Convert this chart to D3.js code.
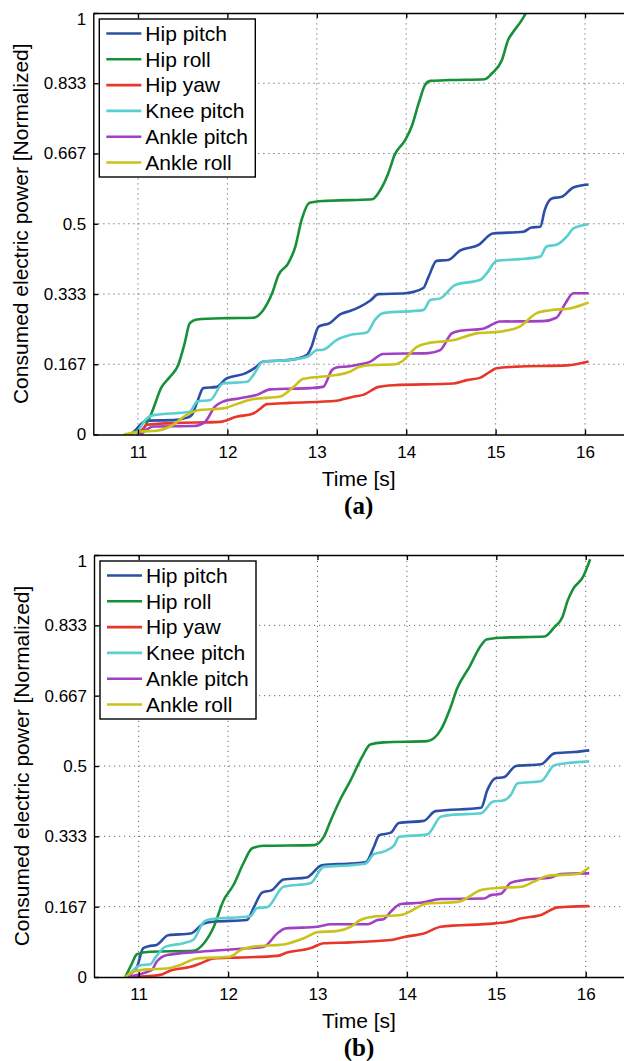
<!DOCTYPE html>
<html lang="en">
<head>
  <meta charset="UTF-8">
  <title>Consumed electric power per joint</title>
  <script src="https://d3js.org/d3.v7.min.js"></script>
  <style>
    body { margin: 0; background: #fff; }
    svg { display: block; background: #fff; }
    text { font-family: "Liberation Sans", Arial, sans-serif; fill: #000; }
    .grid line { stroke: #666; stroke-width: 1; stroke-dasharray: 1.2 3.8; }
    .axis path, .axis line { stroke: #000; stroke-width: 1.4; }
    .axis text { font-size: 17px; }
    .series { fill: none; stroke-width: 2.6; stroke-linejoin: round; }
    .label { font-size: 21px; }
    .panel-tag { font-family: "Liberation Serif", "Times New Roman", serif; font-weight: bold; font-size: 25px; }
    .legend text { font-size: 21px; }
  </style>
</head>
<body>
<svg width="624" height="1061"></svg>
<script>
const names = ["Hip pitch", "Hip roll", "Hip yaw", "Knee pitch", "Ankle pitch", "Ankle roll"];
const colors = ["#2c4ea6", "#179139", "#e8372a", "#5bcfcf", "#a23fc2", "#c9c21b"];
const xTicks = [11, 12, 13, 14, 15, 16];
const yTicks = [0, 1/6, 2/6, 3/6, 4/6, 5/6, 1];
const yTickLabels = ["0", "0.167", "0.333", "0.5", "0.667", "0.833", "1"];

// panel (a) — [time s, normalized power]
const hipPitchA = [[10.92,0],[10.98,0.012],[11.05,0.028],[11.10,0.033],[11.39,0.034],[11.55,0.040],[11.60,0.046],[11.67,0.082],[11.73,0.110],[11.88,0.113],[11.99,0.133],[12.20,0.145],[12.32,0.160],[12.40,0.173],[12.70,0.177],[12.89,0.189],[12.94,0.208],[13.02,0.256],[13.15,0.265],[13.26,0.285],[13.37,0.293],[13.48,0.303],[13.60,0.318],[13.69,0.333],[13.99,0.335],[14.19,0.347],[14.25,0.374],[14.34,0.412],[14.47,0.414],[14.60,0.436],[14.81,0.450],[14.97,0.477],[15.31,0.481],[15.40,0.491],[15.50,0.493],[15.55,0.533],[15.63,0.560],[15.74,0.564],[15.87,0.586],[16.04,0.593]];
const hipRollA = [[11.03,0],[11.15,0.05],[11.265,0.113],[11.35,0.135],[11.45,0.165],[11.52,0.215],[11.58,0.264],[11.66,0.273],[11.99,0.276],[12.29,0.277],[12.40,0.295],[12.50,0.335],[12.57,0.378],[12.68,0.406],[12.76,0.446],[12.83,0.509],[12.92,0.55],[13.07,0.554],[13.37,0.556],[13.62,0.558],[13.71,0.580],[13.80,0.620],[13.87,0.663],[13.99,0.699],[14.06,0.730],[14.14,0.786],[14.21,0.829],[14.27,0.839],[14.49,0.841],[14.88,0.843],[14.96,0.857],[15.07,0.888],[15.14,0.936],[15.20,0.956],[15.27,0.976],[15.34,1.0],[15.42,1.04]];
const hipYawA = [[10.98,0],[11.05,0.012],[11.10,0.023],[11.39,0.027],[11.92,0.030],[12.10,0.042],[12.29,0.050],[12.36,0.060],[12.44,0.072],[12.70,0.075],[13.22,0.080],[13.30,0.084],[13.42,0.090],[13.52,0.094],[13.69,0.113],[13.86,0.117],[14.53,0.121],[14.68,0.129],[14.83,0.135],[14.93,0.148],[15.01,0.157],[15.23,0.161],[15.80,0.164],[16.04,0.173]];
const kneePitchA = [[10.98,0],[11.03,0.018],[11.08,0.034],[11.17,0.046],[11.58,0.054],[11.66,0.078],[11.81,0.082],[11.95,0.121],[12.22,0.125],[12.29,0.141],[12.40,0.173],[12.70,0.177],[12.90,0.185],[13.00,0.200],[13.07,0.201],[13.22,0.224],[13.37,0.236],[13.56,0.242],[13.65,0.272],[13.74,0.288],[14.19,0.295],[14.27,0.319],[14.38,0.323],[14.55,0.355],[14.83,0.367],[14.90,0.382],[15.01,0.412],[15.27,0.416],[15.50,0.422],[15.57,0.446],[15.68,0.450],[15.81,0.473],[15.87,0.489],[16.04,0.499]];
const anklePitchA = [[11.03,0],[11.10,0.012],[11.17,0.019],[11.62,0.020],[11.75,0.030],[11.86,0.066],[11.95,0.078],[12.14,0.086],[12.33,0.094],[12.48,0.107],[12.92,0.110],[13.07,0.113],[13.17,0.153],[13.22,0.159],[13.37,0.162],[13.47,0.166],[13.60,0.173],[13.74,0.191],[14.25,0.193],[14.38,0.200],[14.51,0.240],[14.60,0.246],[14.86,0.251],[15.05,0.268],[15.53,0.269],[15.68,0.277],[15.78,0.311],[15.87,0.335],[16.04,0.335]];
const ankleRollA = [[10.84,0],[11.02,0.007],[11.21,0.009],[11.36,0.019],[11.54,0.046],[11.69,0.058],[11.95,0.062],[12.14,0.075],[12.29,0.084],[12.59,0.090],[12.74,0.113],[12.85,0.132],[13.04,0.137],[13.22,0.141],[13.37,0.149],[13.48,0.161],[13.63,0.165],[13.86,0.166],[13.95,0.173],[14.12,0.208],[14.23,0.216],[14.53,0.224],[14.79,0.240],[15.05,0.244],[15.27,0.256],[15.46,0.288],[15.61,0.295],[15.83,0.299],[16.04,0.313]];

// panel (b)
const hipPitchB = [[10.85,0],[10.98,0.024],[11.05,0.068],[11.11,0.073],[11.20,0.076],[11.33,0.099],[11.58,0.103],[11.73,0.127],[11.84,0.131],[12.21,0.135],[12.29,0.166],[12.38,0.200],[12.49,0.206],[12.62,0.231],[12.88,0.236],[13.05,0.265],[13.37,0.269],[13.54,0.272],[13.63,0.308],[13.69,0.336],[13.82,0.342],[13.91,0.365],[14.19,0.370],[14.32,0.393],[14.83,0.401],[14.90,0.443],[14.98,0.470],[15.09,0.474],[15.22,0.500],[15.50,0.504],[15.65,0.530],[15.87,0.533],[16.04,0.537]];
const hipRollB = [[10.85,0],[10.92,0.03],[10.98,0.054],[11.13,0.060],[11.61,0.062],[11.73,0.080],[11.84,0.119],[11.95,0.182],[12.06,0.218],[12.17,0.269],[12.27,0.305],[12.40,0.311],[12.96,0.3125],[13.07,0.332],[13.15,0.372],[13.26,0.423],[13.37,0.466],[13.50,0.522],[13.59,0.551],[13.74,0.556],[14.23,0.559],[14.38,0.586],[14.49,0.640],[14.56,0.683],[14.70,0.735],[14.83,0.786],[14.89,0.800],[15.05,0.804],[15.54,0.807],[15.65,0.829],[15.74,0.853],[15.80,0.893],[15.86,0.920],[15.97,0.948],[16.05,0.99]];
const hipYawB = [[10.94,0],[11.24,0.005],[11.35,0.015],[11.58,0.024],[11.69,0.032],[11.84,0.044],[12.10,0.046],[12.55,0.050],[12.66,0.058],[12.92,0.068],[13.07,0.080],[13.37,0.082],[13.82,0.0875],[13.97,0.095],[14.19,0.103],[14.38,0.119],[14.98,0.127],[15.14,0.131],[15.28,0.139],[15.50,0.147],[15.69,0.165],[16.04,0.168]];
const kneePitchB = [[10.87,0],[11.02,0.028],[11.13,0.030],[11.18,0.044],[11.30,0.072],[11.50,0.080],[11.61,0.088],[11.73,0.131],[11.80,0.137],[12.25,0.144],[12.32,0.163],[12.44,0.166],[12.62,0.214],[12.92,0.222],[13.07,0.261],[13.37,0.265],[13.54,0.269],[13.63,0.291],[13.74,0.297],[13.86,0.3125],[13.91,0.332],[14.23,0.338],[14.38,0.380],[14.49,0.384],[14.83,0.388],[14.96,0.415],[15.09,0.419],[15.16,0.431],[15.24,0.459],[15.50,0.464],[15.65,0.502],[15.80,0.507],[16.04,0.511]];
const anklePitchB = [[10.87,0],[11.05,0.009],[11.15,0.017],[11.20,0.036],[11.32,0.052],[11.69,0.060],[12.21,0.068],[12.40,0.072],[12.55,0.103],[12.64,0.115],[13.00,0.119],[13.15,0.125],[13.56,0.125],[13.67,0.135],[13.74,0.137],[13.82,0.155],[13.93,0.173],[14.15,0.176],[14.38,0.185],[14.86,0.186],[14.94,0.194],[15.05,0.197],[15.16,0.223],[15.31,0.230],[15.61,0.236],[15.72,0.244],[16.04,0.2455]];
const ankleRollB = [[10.85,0],[10.94,0.0125],[11.09,0.018],[11.31,0.020],[11.46,0.028],[11.65,0.044],[12.02,0.048],[12.14,0.064],[12.29,0.072],[12.62,0.077],[12.85,0.092],[13.00,0.106],[13.22,0.109],[13.37,0.119],[13.48,0.135],[13.63,0.143],[13.93,0.147],[14.23,0.174],[14.57,0.178],[14.83,0.206],[15.01,0.211],[15.28,0.214],[15.42,0.226],[15.58,0.240],[15.91,0.244],[16.04,0.260]];

const svg = d3.select("svg");

function drawPanel(id, series, box, tag) {
  const x = d3.scaleLinear().domain([10.5, 16.5]).range([box.left, box.left + 536.4]);
  const y = d3.scaleLinear().domain([0, 1]).range([box.bottom, box.top]);
  const g = svg.append("g");

  g.append("clipPath").attr("id", "clip" + id)
    .append("rect")
    .attr("x", x(10.5)).attr("y", y(1))
    .attr("width", x(16.5) - x(10.5)).attr("height", y(0) - y(1));

  // dotted grid
  const grid = g.append("g").attr("class", "grid");
  grid.selectAll(".gx").data(xTicks).enter().append("line")
    .attr("x1", d => x(d)).attr("x2", d => x(d))
    .attr("y1", y(0)).attr("y2", y(1));
  grid.selectAll(".gy").data(yTicks.slice(1, -1)).enter().append("line")
    .attr("x1", x(10.5)).attr("x2", x(16.5))
    .attr("y1", d => y(d)).attr("y2", d => y(d));

  // lines
  const line = d3.line().x(d => x(d[0])).y(d => y(d[1])).curve(d3.curveMonotoneX);
  g.append("g").attr("clip-path", `url(#clip${id})`)
    .selectAll("path").data(series).enter().append("path")
    .attr("class", "series")
    .attr("stroke", (d, i) => colors[i])
    .attr("d", line);

  // axes, ticks pointing inwards
  g.append("g").attr("class", "axis")
    .attr("transform", `translate(0,${y(0)})`)
    .call(d3.axisBottom(x).tickValues(xTicks).tickSize(-5).tickSizeOuter(0).tickPadding(11)
      .tickFormat(d3.format("d")));
  g.append("g").attr("class", "axis")
    .attr("transform", `translate(0,${y(1)})`)
    .call(d3.axisTop(x).tickValues(xTicks).tickSize(-5).tickSizeOuter(0).tickFormat(""));
  const yAxis = g.append("g").attr("class", "axis")
    .attr("transform", `translate(${x(10.5)},0)`)
    .call(d3.axisLeft(y).tickValues(yTicks).tickSize(-5).tickSizeOuter(0).tickPadding(7)
      .tickFormat((d, i) => yTickLabels[i]));
  yAxis.selectAll(".tick text").filter(d => d === 1).attr("dy", "0.7em");

  // axis labels
  g.append("text").attr("class", "label")
    .attr("text-anchor", "middle")
    .attr("x", (x(10.5) + 624) / 2).attr("y", y(0) + 51)
    .text("Time [s]");
  g.append("text").attr("class", "label")
    .attr("text-anchor", "middle")
    .attr("transform", `translate(${x(10.5) - 65},${(y(0) + y(1)) / 2}) rotate(-90)`)
    .text("Consumed electric power [Normalized]");
  g.append("text").attr("class", "panel-tag")
    .attr("text-anchor", "middle")
    .attr("x", (x(10.5) + 624) / 2).attr("y", y(0) + 79)
    .text(tag);

  // legend
  const lg = g.append("g").attr("class", "legend")
    .attr("transform", `translate(${x(10.5) + 6},${y(1) + 6})`);
  lg.append("rect").attr("width", 156).attr("height", 158)
    .attr("fill", "#fff").attr("stroke", "#000").attr("stroke-width", 1.4);
  const item = lg.selectAll(".item").data(names).enter().append("g")
    .attr("transform", (d, i) => `translate(0,${14.5 + i * 25.8})`);
  item.append("line").attr("x1", 7).attr("x2", 42)
    .attr("stroke", (d, i) => colors[i]).attr("stroke-width", 2.6);
  item.append("text").attr("x", 46).attr("dy", "0.35em").text(d => d);
}

drawPanel("a", [hipPitchA, hipRollA, hipYawA, kneePitchA, anklePitchA, ankleRollA],
  { left: 93.3, top: 13, bottom: 434.5 }, "(a)");
drawPanel("b", [hipPitchB, hipRollB, hipYawB, kneePitchB, anklePitchB, ankleRollB],
  { left: 94, top: 555, bottom: 977 }, "(b)");
</script>
</body>
</html>
